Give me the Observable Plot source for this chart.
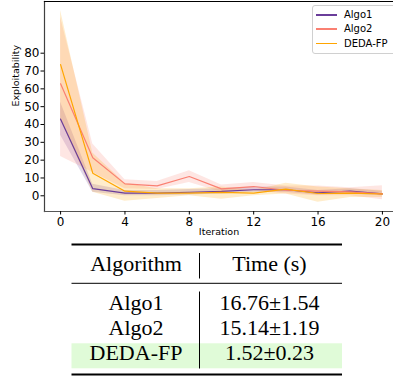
<!DOCTYPE html>
<html>
<head>
<meta charset="utf-8">
<script src="https://cdn.jsdelivr.net/npm/d3@7"></script>
<script src="https://cdn.jsdelivr.net/npm/@observablehq/plot@0.6"></script>
<style>
  body { margin: 0; background: #fff; }
  #wrap { position: relative; width: 393px; height: 377px; overflow: hidden; }
  #chart svg { display: block; }
  #legend { position: absolute; left: 312px; top: 5px; width: 90px; height: 47px;
    border: 1px solid #d0d0d0; border-radius: 3px; background: rgba(255,255,255,0.85);
    font-family: "DejaVu Sans", sans-serif; font-size: 10px; color: #000; }
  .lg-row { position: absolute; left: 0; height: 14px; }
  .lg-line { position: absolute; left: 3px; top: 6px; width: 21px; height: 1.5px; }
  .lg-text { position: absolute; left: 31px; top: 0; line-height: 14px; white-space: nowrap; }
  #table { position: absolute; left: 0; top: 0; }
  #table text { font-family: "Liberation Serif", "Times New Roman", serif; font-size: 22px; fill: #000; }
</style>
</head>
<body>
<div id="wrap">
  <div id="chart"></div>
  <div id="legend"></div>
  <svg id="table" width="393" height="377"></svg>
</div>
<script>
// ---- data ----
const iterations = [0, 2, 4, 6, 8, 10, 12, 14, 16, 18, 20];
const seriesNames = ["Algo1", "Algo2", "DEDA-FP"];
const seriesColors = ["#6a3d9a", "#fa8072", "#ffa500"];

const algo1Mean = [43, 4, 1.5, 1.5, 2, 2.5, 3.4, 3.4, 1.7, 2.6, 1.1];
const algo1Lo   = [34, 2, 0, 0, 0.5, 1, 2, 2, 0.5, 1, 0];
const algo1Hi   = [52.5, 6.5, 3, 3, 3.5, 4, 5, 5, 3, 4, 2.5];

const algo2Mean = [62.8, 21.3, 6.7, 5.6, 10.8, 3.9, 5.2, 3.1, 2.6, 2.2, 1.1];
const algo2Lo   = [22, 13, 4, 3.5, 7.5, 2, 3, 1, 0, 0, -2.2];
const algo2Hi   = [100, 29, 9, 8, 14, 6, 7.5, 5.5, 5.5, 4.5, 5.6];

const dedaMean  = [73.6, 12.7, 2.6, 1.5, 1.5, 1.9, 1.5, 3.7, 1.3, 1.5, 1];
const dedaLo    = [43, 2, -3, -1.5, 0, -2, 0, 1, -3.6, -1, -1];
const dedaHi    = [104, 24, 7, 4, 4, 5, 3, 7, 5, 4, 3];

const xTicks = [0, 4, 8, 12, 16, 20];
const yTicks = [0, 10, 20, 30, 40, 50, 60, 70, 80];

const tableHeader = ["Algorithm", "Time (s)"];
const tableAlgos = ["Algo1", "Algo2", "DEDA-FP"];
const tableTimes = ["16.76\u00b11.54", "15.14\u00b11.19", "1.52\u00b10.23"];

// ---- build rows ----
const means = [algo1Mean, algo2Mean, dedaMean];
const los = [algo1Lo, algo2Lo, dedaLo];
const his = [algo1Hi, algo2Hi, dedaHi];
const rows = [];
seriesNames.forEach((s, k) => {
  iterations.forEach((it, i) => {
    rows.push({series: s, x: it, y: means[k][i], lo: los[k][i], hi: his[k][i]});
  });
});

const colorOf = Object.fromEntries(seriesNames.map((s, i) => [s, seriesColors[i]]));

const marks = [];
seriesNames.forEach(s => {
  marks.push(Plot.areaY(rows.filter(d => d.series === s), {
    x: "x", y1: "lo", y2: "hi", fill: colorOf[s], fillOpacity: 0.2
  }));
});
seriesNames.forEach(s => {
  marks.push(Plot.lineY(rows.filter(d => d.series === s), {
    x: "x", y: "y", stroke: colorOf[s], strokeWidth: 1.2
  }));
});

const chart = Plot.plot({
  width: 393,
  height: 240,
  marginLeft: 44,
  marginRight: 0,
  marginTop: 1,
  marginBottom: 29,
  style: {fontFamily: "DejaVu Sans, sans-serif", fontSize: "12px", color: "#000", background: "transparent"},
  x: {domain: [-1, 21], range: [44, 398]},
  y: {domain: [-8.81, 109]},
  marks: [
    ...marks,
    Plot.frame({anchor: "left", stroke: "#404040", strokeWidth: 1.2}),
    Plot.frame({anchor: "bottom", stroke: "#555", strokeWidth: 1.2}),
    Plot.frame({anchor: "top", stroke: "#000", strokeWidth: 1.2}),
    Plot.axisX({ticks: xTicks, tickSize: 3.5, tickPadding: 2, label: null, fontSize: 12}),
    Plot.axisY({ticks: yTicks, tickSize: 3.5, tickPadding: 1.5, label: null, fontSize: 12}),
    Plot.text(["Iteration"], {frameAnchor: "bottom", dy: 23, fontSize: 9.5, text: d => d}),
    Plot.text(["Exploitability"], {frameAnchor: "left", dx: -29, rotate: -90, fontSize: 9.5, text: d => d})
  ]
});
document.getElementById("chart").appendChild(chart);

// ---- legend ----
const legend = d3.select("#legend");
seriesNames.forEach((s, i) => {
  const row = legend.append("div").attr("class", "lg-row").style("top", (2 + i * 14.4) + "px");
  row.append("div").attr("class", "lg-line").style("background", colorOf[s]);
  row.append("div").attr("class", "lg-text").text(s);
});

// ---- table ----
const t = d3.select("#table");
const L = 71.5, R = 342, colA = 136, colB = 269.5, sep = 199.5;
t.append("rect").attr("x", L).attr("y", 343.3).attr("width", R - L).attr("height", 25)
  .attr("fill", "#e0fbd8");
t.append("line").attr("x1", L).attr("x2", R).attr("y1", 244.5).attr("y2", 244.5)
  .attr("stroke", "#000").attr("stroke-width", 1.8);
t.append("line").attr("x1", L).attr("x2", R).attr("y1", 283.3).attr("y2", 283.3)
  .attr("stroke", "#000").attr("stroke-width", 1);
t.append("line").attr("x1", L).attr("x2", R).attr("y1", 374.5).attr("y2", 374.5)
  .attr("stroke", "#000").attr("stroke-width", 1.8);
t.append("line").attr("x1", sep).attr("x2", sep).attr("y1", 253).attr("y2", 278.5)
  .attr("stroke", "#000").attr("stroke-width", 1);
t.append("line").attr("x1", sep).attr("x2", sep).attr("y1", 291.5).attr("y2", 368.5)
  .attr("stroke", "#000").attr("stroke-width", 1);
const txt = (x, y, s) => t.append("text").attr("x", x).attr("y", y)
  .attr("text-anchor", "middle").text(s);
txt(colA, 271, tableHeader[0]);
txt(colB, 271, tableHeader[1]);
tableAlgos.forEach((a, i) => {
  txt(colA, 309.5 + i * 25, a);
  txt(colB, 309.5 + i * 25, tableTimes[i]);
});
</script>
</body>
</html>
